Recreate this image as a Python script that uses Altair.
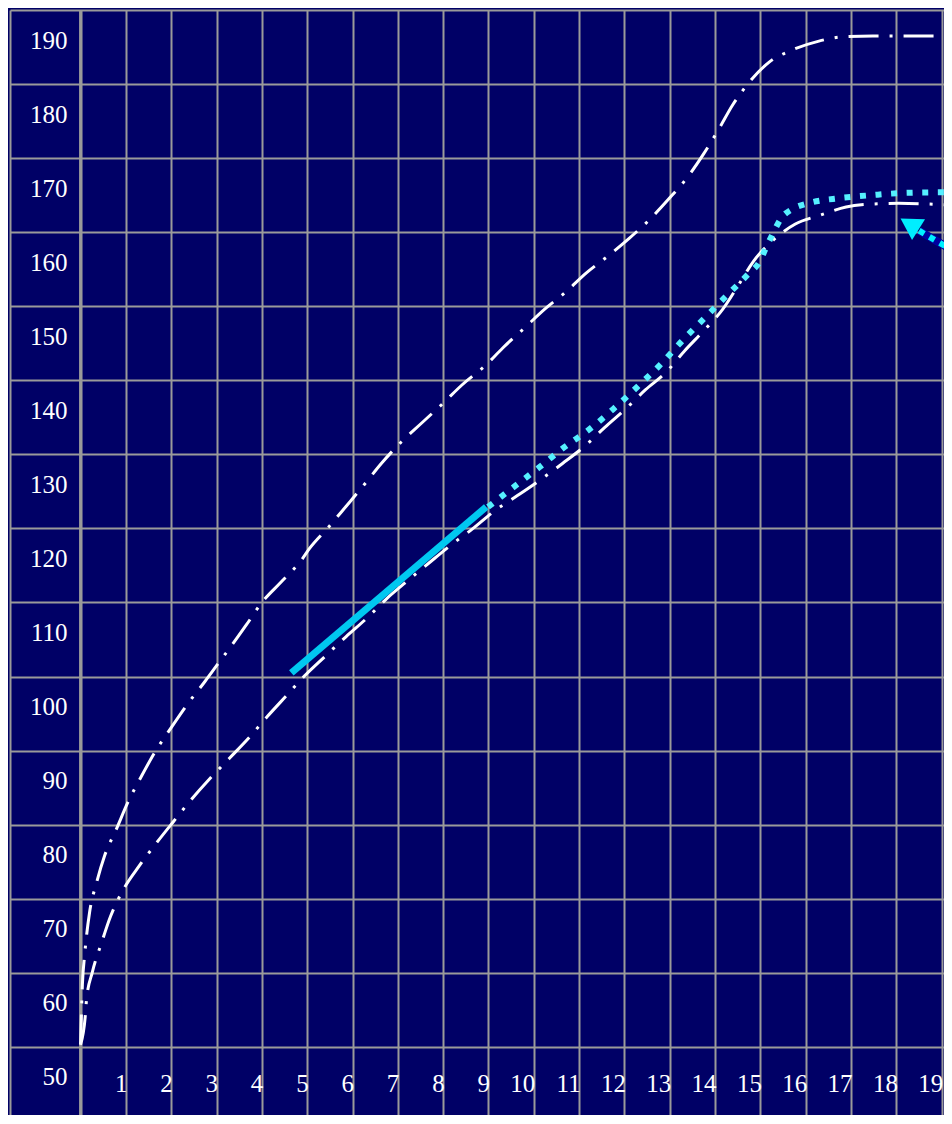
import altair as alt
import pandas as pd

# ---- data ----
upper_age = [0, 0.04, 0.09, 0.2, 0.35, 0.53, 0.79, 1.05, 1.34, 1.64, 2.0, 2.35, 2.74, 3.09, 3.31,
             3.66, 4.0, 4.43, 4.87, 5.04, 5.46, 5.86, 6.27, 6.64, 7.08, 7.52, 7.98, 8.42, 8.95,
             9.32, 9.80, 10.24, 10.70, 11.16, 11.64, 12.11, 12.57, 12.98, 13.40, 13.75, 14.08,
             14.39, 14.76, 15.20, 15.70, 16.29, 16.86, 17.48, 19.1]
upper_len = [50.3, 58.4, 62.4, 68.2, 72.1, 75.8, 79.4, 83.1, 86.5, 89.8, 93.1, 96.2, 99.3, 102.2, 104.0,
             107.0, 110.0, 112.8, 115.7, 117.2, 120.1, 123.0, 126.0, 128.8, 131.7, 134.2, 136.8, 139.4, 142.1,
             144.4, 147.1, 149.6, 151.9, 154.5, 156.8, 159.2, 161.8, 164.5, 167.5, 170.6, 173.9,
             177.2, 180.3, 183.0, 184.6, 185.8, 186.4, 186.5, 186.5]

lower_age = [0, 0.11, 0.13, 0.26, 0.46, 0.66, 0.94, 1.29, 1.67, 2.06, 2.43, 2.85, 3.29, 3.71, 4.12,
             4.54, 4.96, 5.39, 5.86, 6.32, 6.75, 7.21, 7.68, 8.18, 8.64, 9.14, 9.63, 10.13, 10.64,
             11.12, 11.56, 12.02, 12.46, 12.92, 13.33, 13.75, 14.17, 14.52, 14.85, 15.26, 15.77,
             16.32, 16.89, 17.46, 18.05, 19.1]
lower_len = [50.3, 54.6, 56.3, 60.1, 64.0, 67.6, 71.2, 74.4, 77.5, 80.5, 83.3, 86.2, 89.0, 91.7, 94.6,
             97.4, 100.2, 102.7, 105.4, 107.9, 110.5, 112.9, 115.3, 117.8, 119.9, 122.4, 124.4, 126.5, 128.8,
             131.1, 133.6, 136.1, 138.7, 141.1, 144.0, 146.7, 149.6, 152.9, 156.1, 158.8, 161.1,
             162.3, 163.4, 163.8, 163.9, 163.7]

measured_age = [4.65, 8.95]
measured_len = [100.5, 122.9]

forecast_age = [8.99, 9.56, 10.11, 10.66, 11.23, 11.75, 12.28, 12.79, 13.27, 13.75, 14.25, 14.74,
                14.98, 15.13, 15.29, 15.46, 15.70, 16.05, 16.75, 17.46, 18.16, 19.1]
forecast_len = [122.9, 125.6, 128.2, 130.9, 133.4, 136.1, 139.1, 142.1, 145.3, 148.3, 151.4, 154.4,
                156.0, 158.0, 160.0, 161.9, 163.1, 163.9, 164.6, 165.0, 165.3, 165.4]

arrow_age = [18.5, 19.3]
arrow_len = [160.2, 157.3]
arrow_head_age = [18.29]
arrow_head_len = [161.1]

x_ticks = list(range(0, 20))
y_ticks = list(range(50, 200, 10))
label_col_edge = -1.557

# ---- styling ----
NAVY = "#000066"
GRID = "#9a9a9a"
FONT = "Liberation Serif"

x_scale = alt.Scale(domain=[label_col_edge, 19.05], nice=False, zero=False)
y_scale = alt.Scale(domain=[40.8, 190], nice=False, zero=False)

upper_df = pd.DataFrame({"age": upper_age, "len": upper_len})
lower_df = pd.DataFrame({"age": lower_age, "len": lower_len})
meas_df = pd.DataFrame({"age": measured_age, "len": measured_len})
fc_df = pd.DataFrame({"age": forecast_age, "len": forecast_len})
arrow_df = pd.DataFrame({"age": arrow_age, "len": arrow_len})
head_df = pd.DataFrame({"age": arrow_head_age, "len": arrow_head_len})
zero_df = pd.DataFrame({"age": [0]})

x_axis = alt.Axis(
    values=[label_col_edge] + x_ticks, grid=True, gridColor=GRID, gridWidth=2, gridOpacity=1,
    ticks=False, domain=False, title=None, labelExpr="datum.value < 0.5 ? '' : datum.label",
    format="d", labelFont=FONT, labelFontSize=25, labelColor="white", labelAlign="right",
    labelBaseline="middle", labelPadding=-32, labelOffset=1, labelFlush=False, labelOverlap=False,
    labelBound=False,
)
y_axis = alt.Axis(
    values=y_ticks, grid=True, gridColor=GRID, gridWidth=2, gridOpacity=1,
    ticks=False, domain=False, title=None, labelFont=FONT, labelFontSize=25, labelColor="white",
    labelAlign="right", labelBaseline="middle", labelPadding=-57, labelOffset=30,
    labelOverlap=False, labelBound=False, labelFlush=False,
)

X = lambda: alt.X("age:Q", scale=x_scale, axis=x_axis)
Y = lambda: alt.Y("len:Q", scale=y_scale, axis=y_axis)

zero_rule = alt.Chart(zero_df).mark_rule(color=GRID, strokeWidth=3).encode(
    x=alt.X("age:Q", scale=x_scale, axis=x_axis)
)

upper = alt.Chart(upper_df).mark_line(
    color="white", strokeWidth=3, strokeDash=[30, 11, 3, 11], strokeCap="butt",
    interpolate="monotone", clip=True
).encode(x=X(), y=Y(), order="age:Q")

lower = alt.Chart(lower_df).mark_line(
    color="white", strokeWidth=3, strokeDash=[30, 11, 3, 11], strokeCap="butt",
    interpolate="monotone", clip=True
).encode(x=X(), y=Y(), order="age:Q")

measured = alt.Chart(meas_df).mark_line(
    color="#00c8f0", strokeWidth=7, strokeCap="butt"
).encode(x=X(), y=Y())

forecast = alt.Chart(fc_df).mark_line(
    color="#55f0ff", strokeWidth=6, strokeDash=[6, 9.6], strokeCap="butt",
    interpolate="monotone", clip=True
).encode(x=X(), y=Y(), order="age:Q")

arrow_body = alt.Chart(arrow_df).mark_line(
    color="#0000a0", strokeWidth=8, strokeCap="butt", clip=True
).encode(x=X(), y=Y())

arrow_dots = alt.Chart(arrow_df).mark_line(
    color="#00f0ff", strokeWidth=6, strokeDash=[6, 6], strokeCap="butt", clip=True
).encode(x=X(), y=Y())

arrow_head = alt.Chart(head_df).mark_point(
    shape="triangle-up", filled=True, color="#00eeff", opacity=1, size=600, angle=302
).encode(x=X(), y=Y())

chart = alt.layer(
    zero_rule, upper, lower, measured, forecast, arrow_body, arrow_dots, arrow_head
).properties(
    width=934, height=1105,
    padding={"left": 2, "top": 2, "right": 0, "bottom": 0},
    autosize=alt.AutoSizeParams(type="none"),
    background=NAVY,
).configure_view(
    stroke=None, fill=NAVY
)

chart.save("out.html", embed_options={"renderer": "svg", "actions": False})
